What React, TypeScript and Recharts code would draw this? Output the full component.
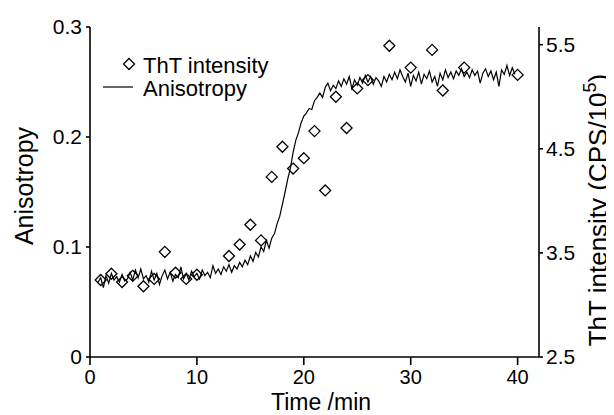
import React from 'react';
import { ComposedChart, Line, Scatter, XAxis, YAxis, Label } from 'recharts';

// Anisotropy trace: [time (min), anisotropy]
const anisotropyPoints: [number, number][] = [
  [0.75, 0.068], [1.0, 0.072], [1.25, 0.063], [1.5, 0.074], [1.75, 0.067], [2.0, 0.076], [2.25, 0.070], [2.5, 0.073],
  [2.75, 0.068], [3.0, 0.075], [3.25, 0.069], [3.5, 0.071], [3.75, 0.077], [4.0, 0.070], [4.25, 0.079], [4.5, 0.072],
  [4.75, 0.080], [5.0, 0.071], [5.25, 0.074], [5.5, 0.068], [5.75, 0.078], [6.0, 0.070], [6.25, 0.076], [6.5, 0.066],
  [6.75, 0.074], [7.0, 0.079], [7.25, 0.071], [7.5, 0.077], [7.75, 0.069], [8.0, 0.075], [8.25, 0.072], [8.5, 0.082],
  [8.75, 0.071], [9.0, 0.076], [9.25, 0.070], [9.5, 0.078], [9.75, 0.073], [10.0, 0.076], [10.25, 0.071], [10.5, 0.079],
  [10.75, 0.074], [11.0, 0.077], [11.25, 0.072], [11.5, 0.083], [11.75, 0.076], [12.0, 0.080], [12.25, 0.075], [12.5, 0.082],
  [12.75, 0.078], [13.0, 0.084], [13.25, 0.077], [13.5, 0.083], [13.75, 0.080], [14.0, 0.086], [14.25, 0.082], [14.5, 0.088],
  [14.75, 0.084], [15.0, 0.092], [15.25, 0.087], [15.5, 0.095], [15.75, 0.091], [16.0, 0.100], [16.25, 0.096], [16.5, 0.106],
  [16.75, 0.099], [17.0, 0.108], [17.25, 0.112], [17.5, 0.121], [17.75, 0.128], [18.0, 0.139], [18.25, 0.150], [18.5, 0.162],
  [18.75, 0.172], [19.0, 0.186], [19.25, 0.197], [19.5, 0.204], [19.75, 0.213], [20.0, 0.219], [20.25, 0.222], [20.5, 0.226],
  [20.75, 0.225], [21.0, 0.233], [21.25, 0.236], [21.5, 0.240], [21.75, 0.236], [22.0, 0.245], [22.25, 0.249], [22.5, 0.242],
  [22.75, 0.247], [23.0, 0.244], [23.25, 0.251], [23.5, 0.246], [23.75, 0.253], [24.0, 0.248], [24.25, 0.255], [24.5, 0.244],
  [24.75, 0.252], [25.0, 0.247], [25.25, 0.254], [25.5, 0.249], [25.75, 0.256], [26.0, 0.250], [26.25, 0.255], [26.5, 0.248],
  [26.75, 0.254], [27.0, 0.251], [27.25, 0.246], [27.5, 0.255], [27.75, 0.250], [28.0, 0.257], [28.25, 0.252], [28.5, 0.259],
  [28.75, 0.253], [29.0, 0.261], [29.25, 0.255], [29.5, 0.250], [29.75, 0.258], [30.0, 0.246], [30.25, 0.256], [30.5, 0.251],
  [30.75, 0.259], [31.0, 0.248], [31.25, 0.257], [31.5, 0.253], [31.75, 0.260], [32.0, 0.250], [32.25, 0.255], [32.5, 0.246],
  [32.75, 0.258], [33.0, 0.252], [33.25, 0.261], [33.5, 0.254], [33.75, 0.259], [34.0, 0.253], [34.25, 0.260], [34.5, 0.256],
  [34.75, 0.262], [35.0, 0.255], [35.25, 0.259], [35.5, 0.254], [35.75, 0.261], [36.0, 0.256], [36.25, 0.260], [36.5, 0.249],
  [36.75, 0.258], [37.0, 0.262], [37.25, 0.255], [37.5, 0.260], [37.75, 0.252], [38.0, 0.259], [38.25, 0.246], [38.5, 0.261],
  [38.75, 0.257], [39.0, 0.265], [39.25, 0.256], [39.5, 0.263], [39.75, 0.257],
];

// ThT intensity (CPS/10^5)
const thtTimes: number[] = [1, 2, 3, 4, 5, 6, 7, 8, 9, 10, 13, 14, 15, 16, 17, 18, 19, 20, 21, 22, 23, 24, 25, 26, 28, 30, 32, 33, 35, 40];
const thtValues: number[] = [3.24, 3.30, 3.22, 3.28, 3.18, 3.25, 3.51, 3.31, 3.25, 3.29, 3.47, 3.58, 3.77, 3.62, 4.23, 4.52, 4.31, 4.41, 4.67, 4.10, 5.00, 4.70, 5.08, 5.16, 5.49, 5.28, 5.45, 5.06, 5.28, 5.21];

const xTicks = [0, 10, 20, 30, 40];
const leftTicks = [0, 0.1, 0.2, 0.3];
const rightTicks = [2.5, 3.5, 4.5, 5.5];

const anisotropyData = anisotropyPoints.map(([t, a]) => ({ t, a }));
const thtData = thtTimes.map((t, i) => ({ t, s: thtValues[i] }));

const FONT = '"Liberation Sans", Arial, Helvetica, sans-serif';

const Diamond = (props: any) => {
  const { cx, cy } = props;
  if (cx == null || cy == null) return null;
  const r = 5.5;
  return (
    <path
      d={`M${cx},${cy - r}L${cx + r},${cy}L${cx},${cy + r}L${cx - r},${cy}Z`}
      fill="none"
      stroke="#000"
      strokeWidth={1.3}
    />
  );
};

const axisLineStyle = { stroke: '#000', strokeWidth: 1.6 };
const tickLineStyle = { stroke: '#000', strokeWidth: 1.6 };
const tickStyle = { fill: '#000', fontSize: 21, fontFamily: FONT };
const xTickStyle = { fill: '#000', fontSize: 20, fontFamily: FONT };

export default function App() {
  return (
    <div style={{ width: 606, height: 407, background: '#fff' }}>
      <ComposedChart width={606} height={407} margin={{ top: 19, right: 0, bottom: 0, left: 0 }}>
        <XAxis
          type="number"
          dataKey="t"
          domain={[0, 42]}
          ticks={xTicks}
          allowDataOverflow
          height={58}
          tickSize={8}
          tickMargin={5}
          axisLine={axisLineStyle}
          tickLine={tickLineStyle}
          tick={xTickStyle}
        >
          <Label
            content={() => (
              <text x={313} y={402} textAnchor="middle" fontSize={23} fontFamily={FONT} fill="#000">
                Time /min
              </text>
            )}
          />
        </XAxis>
        <YAxis
          yAxisId="left"
          orientation="left"
          width={82}
          domain={[0, 0.3]}
          ticks={leftTicks}
          allowDataOverflow
          tickSize={4}
          tickMargin={4}
          tickFormatter={(v: number) => (v === 0 ? '0' : String(v))}
          axisLine={axisLineStyle}
          tickLine={tickLineStyle}
          tick={tickStyle}
        >
          <Label
            content={() => (
              <g>
                <text
                  x={25}
                  y={178}
                  transform="rotate(-90 25 178)"
                  textAnchor="middle"
                  fontSize={25}
                  fontFamily={FONT}
                  fill="#000"
                >
                  Anisotropy
                </text>
                <path d="M121,50.5L126.5,56L121,61.5L115.5,56Z" fill="none" stroke="#000" strokeWidth={1.3} />
                <text x={135} y={65} fontSize={22} fontFamily={FONT} fill="#000">
                  ThT intensity
                </text>
                <line x1={95} y1={79} x2={125} y2={79} stroke="#000" strokeWidth={1.2} />
                <text x={135} y={88} fontSize={22} fontFamily={FONT} fill="#000">
                  Anisotropy
                </text>
              </g>
            )}
          />
        </YAxis>
        <YAxis
          yAxisId="right"
          orientation="right"
          width={75}
          domain={[2.5, 5.67]}
          ticks={rightTicks}
          allowDataOverflow
          tickSize={4}
          tickMargin={3}
          axisLine={axisLineStyle}
          tickLine={tickLineStyle}
          tick={tickStyle}
        >
          <Label
            content={() => (
              <text
                x={599}
                y={202}
                transform="rotate(-90 599 202)"
                textAnchor="middle"
                fontSize={26}
                fontFamily={FONT}
                fill="#000"
              >
                ThT intensity (CPS/10
                <tspan dy={-11} fontSize={18}>5</tspan>
                <tspan dy={11}>)</tspan>
              </text>
            )}
          />
        </YAxis>
        <Line
          yAxisId="left"
          data={anisotropyData}
          dataKey="a"
          type="linear"
          stroke="#000"
          strokeWidth={1.2}
          dot={false}
          activeDot={false}
          isAnimationActive={false}
        />
        <Scatter
          yAxisId="right"
          data={thtData}
          dataKey="s"
          shape={Diamond}
          isAnimationActive={false}
        />
      </ComposedChart>
    </div>
  );
}
